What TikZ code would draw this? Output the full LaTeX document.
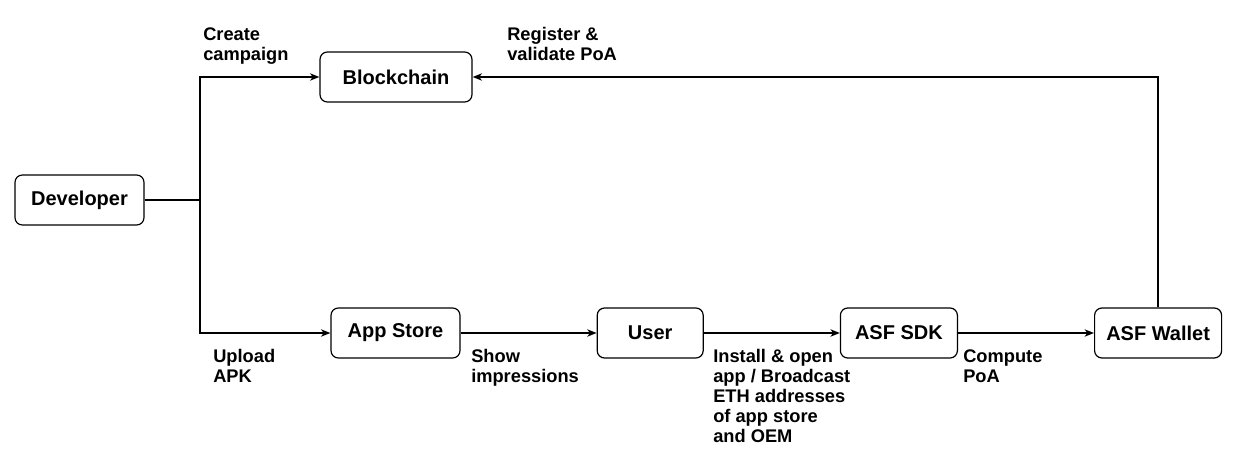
\documentclass[tikz,border=0pt]{standalone}
\usepackage{fontspec}
\setmainfont{Liberation Sans}
\usetikzlibrary{positioning}
\usetikzlibrary{arrows.meta}

\begin{document}
\begin{tikzpicture}[x=0.75pt, y=-0.75pt,
	box/.style = {draw, rounded corners = 5.5pt, line width = 0.9pt, minimum height = 37.5pt, inner sep = 0pt, font = \bfseries\fontsize{15}{18}\selectfont},
	lbl/.style = {anchor = north west, inner sep = 0pt, align = left, font = \bfseries\fontsize{13.7}{15}\selectfont},
	flow/.style = {line width = 1.1pt, -{Stealth[length = 7pt, width = 5.5pt, inset = 2pt]}}]
			\useasboundingbox (0,0) rectangle (1236,467);
			\node[box, minimum width = 96.75pt] (Dev) at (79.5,200) {Developer};
			\node[box, minimum width = 114pt] (Chain) at (396,77) {Blockchain};
			\node[box, minimum width = 96.75pt] (Store) at (395.5,333) {App Store};
			\node[box, minimum width = 79.5pt, right = 102pt of Store] (User) {User};
			\node[box, minimum width = 87.75pt, right = 102pt of User] (SDK) {ASF SDK};
			\node[box, minimum width = 95.25pt, right = 102pt of SDK] (Wallet) {ASF Wallet};
			\coordinate (Split) at (200,200);
			
			\draw[line width = 2pt] (Dev.east) -- (Split);
			\draw[flow] (Split) |- (Chain.west);
			\draw[flow] (Split) |- (Store.west);
			\draw[flow] (Store) -- (User);
			\draw[flow] (User) -- (SDK);
			\draw[flow] (SDK) -- (Wallet);
			\draw[flow] (Wallet.north) |- (Chain.east);
			
			\node[lbl] (CreateLbl) at (203,27) {Create\\campaign};
			\node[lbl] (RegisterLbl) at (507,27) {Register \&\\validate PoA};
			\node[lbl] (UploadLbl) at (213,349) {Upload\\APK};
			\node[lbl] (ShowLbl) at (471,349) {Show\\impressions};
			\node[lbl] (InstallLbl) at (713,349) {Install \& open\\app / Broadcast\\ETH addresses\\of app store\\and OEM};
			\node[lbl] (ComputeLbl) at (963,349) {Compute\\PoA};
\end{tikzpicture}
\end{document}
